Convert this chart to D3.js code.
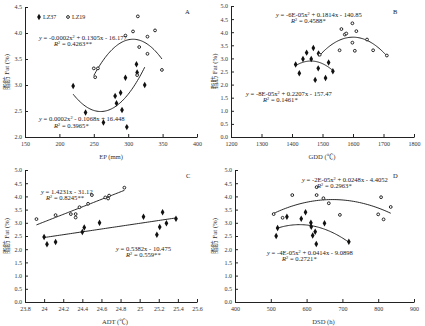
<!DOCTYPE html>
<html lang="zh">
<head>
<meta charset="UTF-8">
<title>脂肪含量与气象因子</title>
<script src="https://cdn.jsdelivr.net/npm/d3@7"></script>
<style>
    body { margin: 0; background: #fff; }
    svg { display: block; font-family: "Liberation Serif", "Times New Roman", "Noto Sans CJK SC", serif; }
</style>
</head>
<body>
<div id="chart"></div>
<script>
// 两个品种：LZ37（实心）与 LZ19（空心）
const varieties = ["LZ37", "LZ19"];

// A: EP (mm) 与脂肪含量
const epLZ37 = [[220, 2.98], [238, 2.47], [264, 2.28], [281, 2.79], [283, 2.65], [289, 2.85],
                [291, 2.52], [296, 3.14], [298, 2.19], [312, 3.40], [313, 3.24], [324, 3.00]];
const epLZ19 = [[250, 3.32], [256, 3.32], [252, 3.15], [296, 3.95], [307, 4.03], [314, 4.32],
                [313, 3.19], [316, 3.73], [328, 3.93], [328, 3.60], [339, 4.05], [349, 3.29]];

// B: GDD (℃)
const gddLZ37 = [[1412, 2.77], [1424, 2.43], [1436, 2.98], [1448, 3.22], [1463, 2.98], [1470, 3.40],
                 [1476, 2.18], [1487, 3.19], [1486, 2.62], [1510, 2.25], [1520, 2.84], [1534, 2.51]];
const gddLZ19 = [[1491, 3.14], [1556, 3.31], [1562, 4.12], [1573, 3.91], [1578, 3.95], [1598, 4.34],
                 [1598, 3.60], [1606, 3.29], [1611, 4.04], [1646, 3.72], [1666, 3.31], [1711, 3.11]];

// C: ADT (℃)
const adtLZ37 = [[24.00, 2.46], [24.03, 2.19], [24.12, 2.27], [24.40, 2.65], [24.42, 2.82], [24.58, 3.00],
                 [25.04, 3.23], [25.18, 2.55], [25.21, 2.84], [25.24, 3.40], [25.28, 2.98], [25.38, 3.15]];
const adtLZ19 = [[23.92, 3.14], [24.12, 3.29], [24.28, 3.33], [24.33, 3.33], [24.33, 3.20], [24.37, 3.59],
                 [24.46, 3.72], [24.50, 4.05], [24.64, 3.96], [24.67, 3.92], [24.68, 4.03], [24.84, 4.33]];

// D: DSD (h)
const dsdLZ37 = [[515, 2.50], [519, 2.80], [545, 3.23], [585, 3.15], [597, 3.40], [612, 3.00],
                 [613, 2.85], [617, 2.52], [624, 2.66], [627, 2.20], [650, 2.98], [718, 2.28]];
const dsdLZ19 = [[508, 3.33], [533, 3.19], [560, 4.05], [628, 4.35], [628, 4.05], [647, 3.93],
                 [662, 3.74], [693, 3.30], [800, 3.32], [808, 3.97], [815, 3.13], [835, 3.60]];

// 二次趋势线 (顶点式) [a, h, k]: y = a(x - h)^2 + k
const trendEpLZ37 = [0.000208, 260, 2.49];
const trendEpLZ19 = [-0.000215, 307, 3.88];
const trendGddLZ37 = [-0.00007, 1462, 2.90];
const trendGddLZ19 = [-0.000058, 1600, 3.81];
const trendDsdLZ37 = [-0.000035, 580, 2.93];
const trendDsdLZ19 = [-0.0000195, 672, 3.88];
// 线性趋势线 [斜率, 截距]
const adtLineLZ37 = [0.5382, -10.475];
const adtLineLZ19 = [1.4231, -31.12];

// 刻度
const ticksA_x = [150, 200, 250, 300, 350, 400];
const ticksA_y = [2.0, 2.5, 3.0, 3.5, 4.0, 4.5];
const ticksB_x = [1200, 1300, 1400, 1500, 1600, 1700, 1800];
const ticksC_x = [23.8, 24, 24.2, 24.4, 24.6, 24.8, 25, 25.2, 25.4, 25.6];
const ticksD_x = [400, 500, 600, 700, 800, 900];
const ticksFat = [0, 0.5, 1, 1.5, 2, 2.5, 3, 3.5, 4, 4.5, 5];

const W = 425, H = 326;

const svg = d3.select("#chart").append("svg")
    .attr("width", W)
    .attr("height", H)
    .style("background", "#fff");

const quad = c => x => c[0] * (x - c[1]) * (x - c[1]) + c[2];
const lin = c => x => c[0] * x + c[1];

function drawPanel(cfg) {
    const x = d3.scaleLinear().domain(cfg.xDomain).range([cfg.left, cfg.right]);
    const y = d3.scaleLinear().domain(cfg.yDomain).range([cfg.bottom, cfg.top]);
    const g = svg.append("g");

    // 坐标轴
    const ax = g.append("g")
        .attr("transform", `translate(0,${cfg.bottom})`)
        .call(d3.axisBottom(x).tickValues(cfg.xTicks).tickSizeInner(-3).tickSizeOuter(0)
            .tickPadding(5).tickFormat(cfg.xFormat));
    const ay = g.append("g")
        .attr("transform", `translate(${cfg.left},0)`)
        .call(d3.axisLeft(y).tickValues(cfg.yTicks).tickSizeInner(-3).tickSizeOuter(0)
            .tickPadding(3).tickFormat(d3.format(".1f")));
    [ax, ay].forEach(a => {
        a.selectAll("path.domain").attr("stroke", "#222").attr("stroke-width", 1);
        a.selectAll(".tick line").attr("stroke", "#222").attr("stroke-width", 1);
        a.selectAll("text").attr("font-size", 6).attr("fill", "#333")
            .attr("font-family", "Liberation Serif, serif");
    });

    // 趋势线，范围为各品种数据的最小到最大值
    const line = d3.line().x(d => x(d[0])).y(d => y(d[1]));
    cfg.series.forEach(s => {
        const [lo, hi] = d3.extent(s.pts, p => p[0]);
        const curve = d3.range(0, 61).map(i => { const v = lo + (hi - lo) * i / 60; return [v, s.fn(v)]; });
        g.append("path")
            .attr("d", line(curve))
            .attr("fill", "none")
            .attr("stroke", "#111")
            .attr("stroke-width", 0.9);
    });

    // 散点
    cfg.series.forEach(s => drawPoints(g, s.pts.map(p => [x(p[0]), y(p[1])]), s.name));

    // 方程与 R²
    cfg.notes.forEach(n => {
        const t = g.append("text")
            .attr("x", n.x).attr("y", n.y)
            .attr("font-size", 6.6)
            .attr("fill", "#222");
        n.parts.forEach(p => {
            const ts = t.append("tspan").text(p[0]);
            if (p[1] === "sup") ts.attr("dy", -2.4).attr("font-size", 4.4);
            if (p[1] === "base") ts.attr("dy", 2.4);
        });
        t.selectAll("tspan").filter(function () { return /^[yR]/.test(this.textContent); })
            .attr("font-style", "italic");
    });

    // 面板字母
    g.append("text").attr("x", cfg.letter[1]).attr("y", cfg.letter[2])
        .attr("font-size", 6.5).attr("fill", "#222").text(cfg.letter[0]);

    // 轴标题
    g.append("text")
        .attr("x", (cfg.left + cfg.right) / 2 + cfg.titleDx)
        .attr("y", cfg.bottom + 21.5)
        .attr("text-anchor", "middle")
        .attr("font-size", 6.6)
        .attr("fill", "#333")
        .text(cfg.xTitle);
    g.append("text")
        .attr("transform", `translate(${cfg.yTitleX},${(cfg.top + cfg.bottom) / 2}) rotate(-90)`)
        .attr("text-anchor", "middle")
        .attr("font-size", 6.8)
        .attr("fill", "#333")
        .text("脂肪 Fat (%)");
}

function drawPoints(g, pts, name) {
    if (name === "LZ37") {
        g.append("g").selectAll("path").data(pts).join("path")
            .attr("transform", d => `translate(${d[0]},${d[1]})`)
            .attr("d", d3.symbol(d3.symbolDiamond).size(12))
            .attr("fill", "#111");
    } else {
        g.append("g").selectAll("circle").data(pts).join("circle")
            .attr("cx", d => d[0]).attr("cy", d => d[1])
            .attr("r", 1.4)
            .attr("fill", "#fff")
            .attr("stroke", "#111")
            .attr("stroke-width", 0.9);
    }
}

const eq = (a, b) => [["y", ""], [" = " + a + "x", ""], ["2", "sup"], [b, "base"]];
const r2 = v => [["R", ""], ["2", "sup"], [" = " + v, "base"]];

drawPanel({
    left: 25, right: 197, top: 7, bottom: 137, yTitleX: 8.5,
    xDomain: [150, 400], yDomain: [2, 4.5],
    xTicks: ticksA_x, yTicks: ticksA_y, xFormat: d3.format("d"),
    series: [{ name: "LZ37", pts: epLZ37, fn: quad(trendEpLZ37) },
             { name: "LZ19", pts: epLZ19, fn: quad(trendEpLZ19) }],
    notes: [
        { x: 39, y: 40, parts: eq("-0.0002", " + 0.1305x - 16.177") },
        { x: 54, y: 46, parts: r2("0.4263**") },
        { x: 39, y: 121, parts: eq("0.0002", " - 0.1068x + 16.448") },
        { x: 54, y: 128, parts: r2("0.3965*") }
    ],
    letter: ["A", 185, 14], xTitle: "EP (mm)", titleDx: 0
});

drawPanel({
    left: 231, right: 414, top: 6, bottom: 137, yTitleX: 216.5,
    xDomain: [1200, 1800], yDomain: [0, 5],
    xTicks: ticksB_x, yTicks: ticksFat, xFormat: d3.format("d"),
    series: [{ name: "LZ37", pts: gddLZ37, fn: quad(trendGddLZ37) },
             { name: "LZ19", pts: gddLZ19, fn: quad(trendGddLZ19) }],
    notes: [
        { x: 276, y: 17, parts: eq("-6E-05", " + 0.1814x - 140.85") },
        { x: 291, y: 23, parts: r2("0.4588*") },
        { x: 246, y: 96, parts: eq("-8E-05", " + 0.2207x - 157.47") },
        { x: 263, y: 102, parts: r2("0.1461*") }
    ],
    letter: ["B", 393, 14], xTitle: "GDD (℃)", titleDx: -0.5
});

drawPanel({
    left: 25, right: 197, top: 170, bottom: 302, yTitleX: 8.5,
    xDomain: [23.8, 25.6], yDomain: [0, 5],
    xTicks: ticksC_x, yTicks: ticksFat, xFormat: d => String(+d.toFixed(1)),
    series: [{ name: "LZ37", pts: adtLZ37, fn: lin(adtLineLZ37) },
             { name: "LZ19", pts: adtLZ19, fn: lin(adtLineLZ19) }],
    notes: [
        { x: 41, y: 194, parts: [["y", ""], [" = 1.4231x - 31.12", ""]] },
        { x: 46, y: 200, parts: r2("0.8245**") },
        { x: 116, y: 251, parts: [["y", ""], [" = 0.5382x - 10.475", ""]] },
        { x: 126, y: 257, parts: r2("0.559**") }
    ],
    letter: ["C", 186, 178], xTitle: "ADT (℃)", titleDx: 4
});

drawPanel({
    left: 235, right: 414, top: 170, bottom: 302, yTitleX: 216.5,
    xDomain: [400, 900], yDomain: [0, 5],
    xTicks: ticksD_x, yTicks: ticksFat, xFormat: d3.format("d"),
    series: [{ name: "LZ37", pts: dsdLZ37, fn: quad(trendDsdLZ37) },
             { name: "LZ19", pts: dsdLZ19, fn: quad(trendDsdLZ19) }],
    notes: [
        { x: 302, y: 182, parts: eq("-2E-05", " + 0.0248x - 4.4052") },
        { x: 317, y: 188, parts: r2("0.2963*") },
        { x: 267, y: 255, parts: eq("-4E-05", " + 0.0414x - 9.0898") },
        { x: 282, y: 261, parts: r2("0.2721*") }
    ],
    letter: ["D", 393, 178], xTitle: "DSD (h)", titleDx: -1
});

// 图例 (仅 A 面板)
const legend = svg.append("g").attr("transform", "translate(39,17)");
varieties.forEach((v, i) => {
    const lg = legend.append("g").attr("transform", `translate(${i * 29},0)`);
    drawPoints(lg, [[0, 0]], v);
    lg.append("text").attr("x", 4).attr("y", 2)
        .attr("font-size", 6).attr("fill", "#222").text(v);
});
</script>
</body>
</html>
